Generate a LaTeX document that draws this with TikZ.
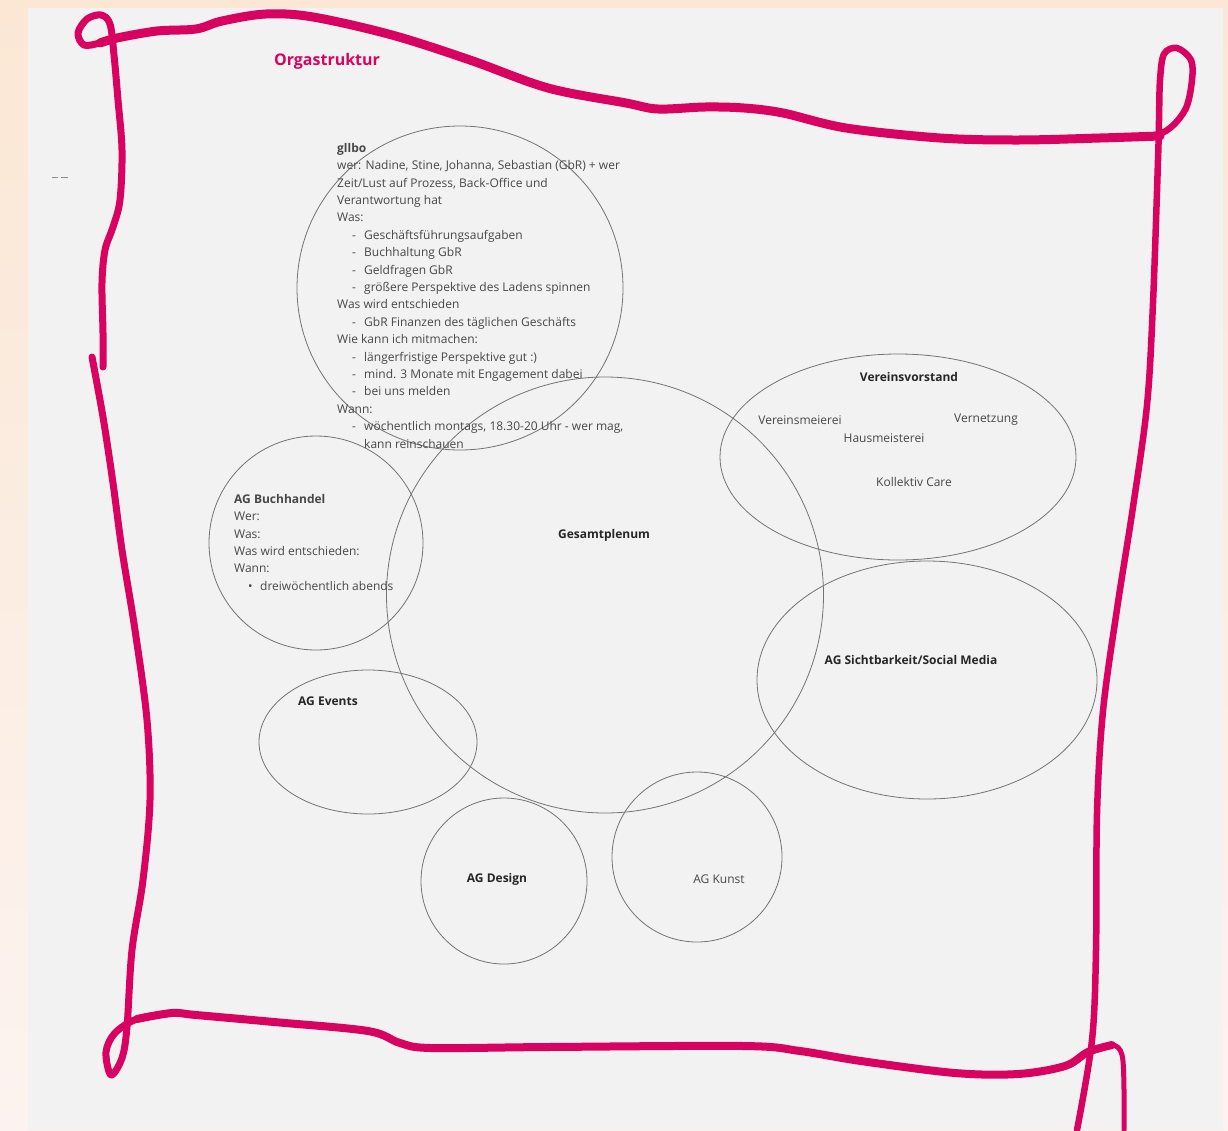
\documentclass[tikz,border=0pt]{standalone}
\usepackage{fontspec}
\setmainfont{Open Sans}
\usetikzlibrary{shapes.geometric}
\definecolor{pinkpen}{RGB}{216,3,96}
\definecolor{panelgray}{RGB}{242,242,242}
\definecolor{peach}{RGB}{251,231,212}
\definecolor{peachlight}{RGB}{252,243,240}
\newcommand{\dashitem}{\hspace*{15pt}\makebox[12pt][l]{-}}
\newcommand{\dotitem}{\hspace*{14pt}\makebox[12pt][l]{\textbullet}}

\begin{document}
\begin{tikzpicture}[x=1pt, y=-1pt,
    blob/.style={ellipse, draw=black!55, line width=0.8pt, inner sep=0pt},
    txt/.style={text=black!72, inner sep=0pt, font=\fontsize{12}{17.4}\selectfont},
    head/.style={text=black!85, inner sep=0pt, font=\fontsize{12}{17.4}\selectfont\bfseries},
    penline/.style={draw=pinkpen, line cap=round, line join=round}]
    \useasboundingbox (0,0) rectangle (1228,1130);
    \shade[top color=peach, bottom color=peachlight] (0,0) rectangle (1228,1130);
    \fill[panelgray] (28,8) rectangle (1223,1130);
    \draw[black!45, line width=0.8pt] (52,177) -- (58,177) (61,177) -- (68,177);

    % circles
    \node[blob, minimum width=326, minimum height=324] (gllbo) at (460,288) {};
    \node[blob, minimum width=437, minimum height=436] (plenum) at (605,595) {};
    \node[blob, minimum width=356, minimum height=206] (vorstand) at (898,457) {};
    \node[blob, minimum width=214, minimum height=214] (buchhandel) at (316,543) {};
    \node[blob, minimum width=340, minimum height=238] (sichtbarkeit) at (927,680) {};
    \node[blob, minimum width=218, minimum height=144] (events) at (368,742) {};
    \node[blob, minimum width=166, minimum height=166] (design) at (504,881) {};
    \node[blob, minimum width=170, minimum height=170] (kunst) at (697,857) {};

    % texts
    \node[text=pinkpen, inner sep=0pt, font=\fontsize{16}{18}\selectfont\bfseries] (title) at (327,61) {Orgastruktur};
    \node[txt, anchor=north west, align=left] (gllbotext) at (337,143) {%
        \textbf{gllbo}\\
        wer: Nadine, Stine, Johanna, Sebastian (GbR) + wer\\
        Zeit/Lust auf Prozess, Back-Office und\\
        Verantwortung hat\\
        Was:\\
        \dashitem Geschäftsführungsaufgaben\\
        \dashitem Buchhaltung GbR\\
        \dashitem Geldfragen GbR\\
        \dashitem größere Perspektive des Ladens spinnen\\
        Was wird entschieden\\
        \dashitem GbR Finanzen des täglichen Geschäfts\\
        Wie kann ich mitmachen:\\
        \dashitem längerfristige Perspektive gut :)\\
        \dashitem mind. 3 Monate mit Engagement dabei\\
        \dashitem bei uns melden\\
        Wann:\\
        \dashitem wöchentlich montags, 18.30-20 Uhr - wer mag,\\
        \hspace*{27pt}kann reinschauen};
    \node[txt, anchor=north west, align=left] (buchtext) at (234,494) {%
        \textbf{AG Buchhandel}\\
        Wer:\\
        Was:\\
        Was wird entschieden:\\
        Wann:\\
        \dotitem dreiwöchentlich abends};
    \node[head] (plenumtext) at (604,535) {Gesamtplenum};
    \node[head] (vorstandtext) at (909,377) {Vereinsvorstand};
    \node[txt] (meierei) at (800,420) {Vereinsmeierei};
    \node[txt] (vernetzung) at (986,420) {Vernetzung};
    \node[txt] (hausmeisterei) at (884,438) {Hausmeisterei};
    \node[txt] (care) at (914,482) {Kollektiv Care};
    \node[head] (sichttext) at (911,660) {AG Sichtbarkeit/Social Media};
    \node[head, anchor=west] (eventstext) at (298,701) {AG Events};
    \node[head] (designtext) at (497,879) {AG Design};
    \node[txt] (kunsttext) at (719,879) {AG Kunst};

    % hand drawn frame
    \draw[penline, line width=7] plot[smooth, tension=0.55] coordinates {(103,367) (103,333) (102,283) (105,250) (113,227) (120,200) (122,150) (118,100) (114,55) (110,24) (101,15) (87,19) (78,33) (84,45) (100,43) (117,38)};
    \draw[penline, line width=9] plot[smooth, tension=0.55] coordinates {(100,43) (117,38) (157,31) (196,29) (222,21) (266,14) (313,17) (392,35) (470,60) (548,88) (626,103) (658,109) (705,107) (744,108) (783,113) (846,128) (940,138) (1018,140) (1100,138) (1160,136)};
    \draw[penline, line width=6.5] plot[smooth, tension=0.55] coordinates {(1100,138) (1150,136) (1170,128) (1186,108) (1192,80) (1191,60) (1177,48) (1164,54) (1160,80) (1159,120) (1158,160) (1153,303) (1147,405) (1133,507) (1117,609) (1103,711) (1097,813) (1096,950) (1092,1040) (1077,1130)};
    \draw[penline, line width=7] plot[smooth, tension=0.55] coordinates {(92,357) (103,417) (113,483) (122,550) (135,630) (147,720) (150,800) (143,880) (132,950) (127,1027) (122,1058) (111,1075) (106,1052) (115,1033) (137,1019) (172,1013)};
    \draw[penline, line width=8] plot[smooth, tension=0.55] coordinates {(137,1019) (172,1013) (196,1015) (274,1022) (368,1031) (400,1043) (431,1048) (548,1047) (744,1046) (800,1051) (861,1061) (955,1073) (1018,1074) (1065,1066) (1088,1052) (1112,1045)};
    \draw[penline, line width=5] plot[smooth, tension=0.55] coordinates {(1088,1052) (1112,1045) (1122,1055) (1124,1090) (1124,1130)};
\end{tikzpicture}
\end{document}
